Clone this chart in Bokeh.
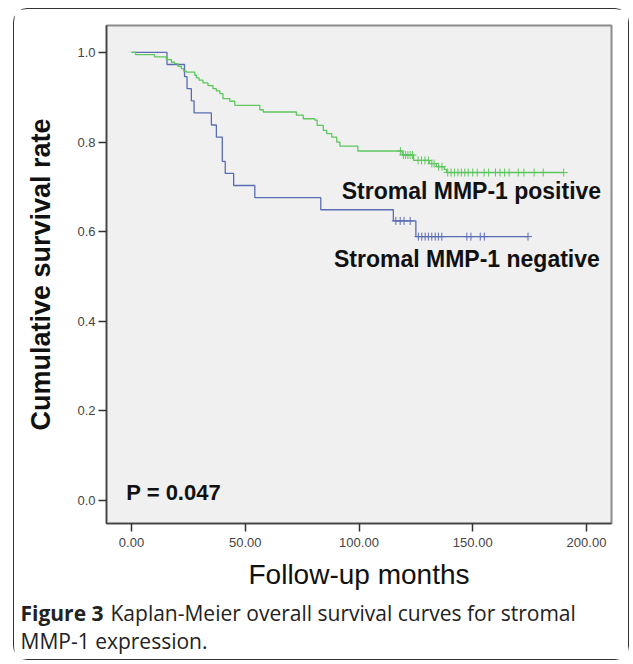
import numpy as np
from bokeh.plotting import figure
from bokeh.layouts import column, row
from bokeh.models import Range1d, FixedTicker, NumeralTickFormatter
from bokeh.embed import file_html
from bokeh.resources import INLINE
from bokeh.core.properties import value

# ---- data ----
neg_times = [0, 15.6, 23.3, 24.4, 26.3, 27.5, 35.1, 37.3, 39.9, 41.2, 44.9, 54.2, 83.2, 115.1, 125.0, 174.3]
neg_surv = [1.0, 0.973, 0.946, 0.919, 0.892, 0.865, 0.838, 0.811, 0.757, 0.730, 0.703, 0.676, 0.649, 0.624, 0.589, 0.589]
neg_censor = [116.2, 118.1, 119.8, 122.5, 126.1, 127.6, 129.1, 130.5, 132.0, 133.5, 134.9, 136.4,
              147.4, 149.2, 153.3, 155.1, 174.3]

pos_times = [0, 1.8, 10.1, 15.3, 17.5, 18.9, 20.4, 21.9, 22.9, 24.1, 27.8, 28.5, 29.7, 31.4, 33.6,
             35.8, 37.3, 38.8, 40.2, 43.2, 45.4, 56.4, 57.9, 72.5, 75.5, 80.6, 81.6, 84.3, 85.8, 88.0,
             90.2, 91.6, 99.5, 119.0, 124.0, 131.0, 134.0, 137.5, 138.5, 190.0]
pos_surv = [1.0, 0.995, 0.990, 0.984, 0.978, 0.975, 0.969, 0.964, 0.958, 0.956, 0.949, 0.943, 0.938,
            0.932, 0.926, 0.919, 0.914, 0.908, 0.897, 0.891, 0.882, 0.872, 0.867, 0.860, 0.852, 0.849,
            0.837, 0.826, 0.819, 0.811, 0.800, 0.791, 0.780, 0.771, 0.759, 0.752, 0.745, 0.739, 0.732, 0.732]
pos_censor = [118.2, 119.5, 120.5, 121.5, 122.5, 123.5, 126.0, 127.5, 129.0, 130.5, 132.0, 133.0,
              135.0, 136.5, 139.0, 140.5, 142.0, 143.5, 145.0, 146.5, 148.0, 150.0, 152.0, 155.0,
              157.0, 160.0, 162.0, 164.0, 166.0, 170.0, 172.5, 177.0, 181.0, 190.0]

x_ticks = [0, 50, 100, 150, 200]
y_ticks = [0.0, 0.2, 0.4, 0.6, 0.8, 1.0]

caption_bold = "Figure 3"
caption_line1 = "Kaplan-Meier overall survival curves for stromal"
caption_line2 = "MMP-1 expression."

BLUE = "#5a6cb4"
GREEN = "#5ec65e"


def surv_at(times, surv, ts):
    times = np.asarray(times)
    surv = np.asarray(surv)
    idx = np.searchsorted(times, ts, side="right") - 1
    return surv[idx]


p = figure(width=614, height=588, output_backend="svg", toolbar_location=None,
           x_range=Range1d(-11, 211), y_range=Range1d(-0.051, 1.06),
           min_border_left=92, min_border_right=17, min_border_top=16, min_border_bottom=74)
p.background_fill_color = "#f0f0f0"
p.border_fill_color = "white"
p.grid.visible = False
p.outline_line_color = "#8c8c8c"
p.outline_line_width = 2

for ax in (p.xaxis, p.yaxis):
    ax.minor_tick_line_color = None
    ax.major_tick_in = 0
    ax.major_tick_out = 8
    ax.major_tick_line_color = "#333333"
    ax.major_tick_line_width = 1.5
    ax.axis_line_color = "#444444"
    ax.axis_line_width = 1.5
    ax.major_label_text_font = "Liberation Sans"
    ax.major_label_text_font_size = "13px"
    ax.major_label_text_color = "#444444"
    ax.axis_label_text_font = "Liberation Sans"
    ax.axis_label_text_color = "#111111"

p.xaxis.ticker = FixedTicker(ticks=x_ticks)
p.xaxis.formatter = NumeralTickFormatter(format="0.00")
p.yaxis.ticker = FixedTicker(ticks=y_ticks)
p.yaxis.formatter = NumeralTickFormatter(format="0.0")
p.xaxis.major_label_standoff = 6
p.yaxis.major_label_standoff = 3

p.xaxis.axis_label = "Follow-up months"
p.xaxis.axis_label_text_font_size = "28px"
p.xaxis.axis_label_text_font_style = "normal"
p.xaxis.axis_label_standoff = 9
p.yaxis.axis_label = "Cumulative survival rate"
p.yaxis.axis_label_text_font_size = "27px"
p.yaxis.axis_label_text_font_style = "bold"
p.yaxis.axis_label_standoff = 18

p.step(neg_times, neg_surv, mode="after", line_color=BLUE, line_width=1.3)
p.step(pos_times, pos_surv, mode="after", line_color=GREEN, line_width=1.3)
p.scatter(neg_censor, surv_at(neg_times, neg_surv, neg_censor), marker="cross", size=8,
          line_color=BLUE, line_width=1)
p.scatter(pos_censor, surv_at(pos_times, pos_surv, pos_censor), marker="cross", size=8,
          line_color=GREEN, line_width=1)

lbl_font = value("Liberation Sans")
p.text(x=[92.4], y=[0.690], text=["Stromal MMP-1 positive"], text_font=lbl_font,
       text_font_size="23px", text_font_style="bold", text_color="#111111",
       text_baseline="alphabetic", text_align="left")
p.text(x=[89.0], y=[0.540], text=["Stromal MMP-1 negative"], text_font=lbl_font,
       text_font_size="23px", text_font_style="bold", text_color="#111111",
       text_baseline="alphabetic", text_align="left")
p.text(x=[-2.3], y=[0.018], text=["P = 0.047"], text_font=lbl_font,
       text_font_size="22px", text_font_style="bold", text_color="#111111",
       text_baseline="alphabetic", text_align="left")

# caption figure (pixel-like coordinates, y downward)
cap = figure(width=614, height=62, output_backend="svg", toolbar_location=None,
             x_range=Range1d(0, 614), y_range=Range1d(62, 0), min_border=0,
             x_axis_location=None, y_axis_location=None)
cap.outline_line_color = None
cap.grid.visible = False
cap.background_fill_color = "white"
cap_font = value("Open Sans")
cap.text(x=[6], y=[15], text=[caption_bold], text_font=cap_font, text_font_size="21px",
         text_font_style="bold", text_color="#222222", text_baseline="alphabetic")
cap.text(x=[96], y=[15], text=[caption_line1], text_font=cap_font, text_font_size="21px",
         text_color="#222222", text_baseline="alphabetic")
cap.text(x=[6], y=[43], text=[caption_line2], text_font=cap_font, text_font_size="21px",
         text_color="#222222", text_baseline="alphabetic")

layout = column(p, row(cap, spacing=0), spacing=0,
                styles={"border": "1.5px solid #333333", "border-radius": "14px",
                        "margin-left": "13px", "margin-top": "8px"})

open("out.html", "w").write(file_html(layout, INLINE))
